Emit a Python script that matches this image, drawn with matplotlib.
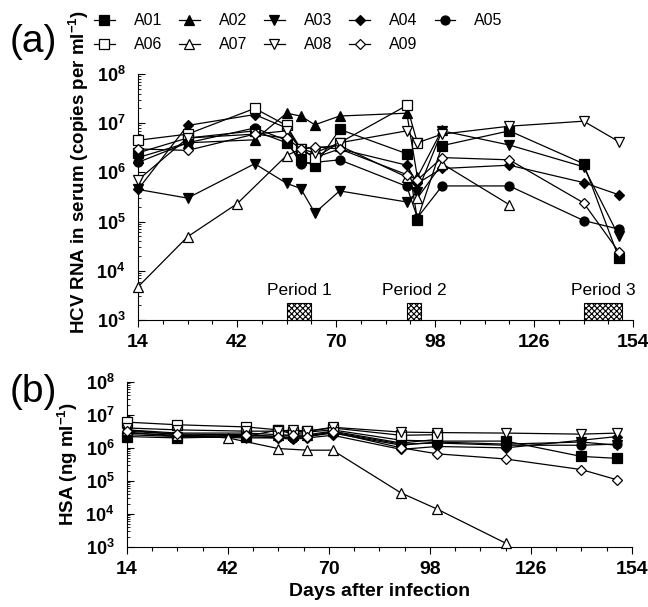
import math

import matplotlib
matplotlib.use("Agg")
import matplotlib.pyplot as plt
import matplotlib.transforms as mtransforms
from matplotlib.patches import Rectangle
from matplotlib.ticker import FixedLocator, LogLocator, FuncFormatter, NullFormatter

plt.rcParams["font.family"] = ["Liberation Sans", "DejaVu Sans"]
plt.rcParams["mathtext.fontset"] = "custom"
plt.rcParams["mathtext.rm"] = "Liberation Sans"
plt.rcParams["mathtext.bf"] = "Liberation Sans:bold"
plt.rcParams["hatch.linewidth"] = 0.8

names = ["A01", "A02", "A03", "A04", "A05", "A06", "A07", "A08", "A09"]

# ── (a) HCV RNA in serum ──────────────────────────────────────────────────
days = [14, 28, 47, 56, 60, 64, 71, 90, 93, 100, 119, 140, 150]
days_a02 = [14, 28, 47, 56, 60, 64, 71, 90, 93, 100]
days_a06 = [14, 28, 47, 56, 60, 64, 71, 90, 93]
days_a07 = [14, 28, 42, 56, 60, 64, 71, 90, 93, 100, 119]

hcv_a01 = [2.5e6, 5e6, 7e6, 4e6, 1.8e6, 1.35e6, 7.5e6, 2.4e6, 1.1e5, 3.5e6, 7e6, 1.5e6, 1.8e4]
hcv_a02 = [2e6, 4e6, 4.6e6, 1.6e7, 1.4e7, 9.3e6, 1.4e7, 1.6e7, 8e5, 7.4e6]
hcv_a03 = [4.5e5, 3e5, 1.5e6, 6e5, 4.7e5, 1.5e5, 4.2e5, 2.5e5, 4e5, 7e6, 3.6e6, 1.3e6, 5e4]
hcv_a04 = [4.5e5, 9e6, 1.5e7, 8e6, 3e6, 2e6, 3e6, 1.4e6, 6e5, 1.2e6, 1.4e6, 6.2e5, 3.5e5]
hcv_a05 = [1.6e6, 4e6, 8e6, 4.5e6, 1.5e6, 1.6e6, 1.8e6, 5.2e5, 1.2e5, 5.3e5, 5.3e5, 1.05e5, 7e4]
hcv_a06 = [4.5e6, 6e6, 2e7, 9e6, 3e6, 2e6, 4e6, 2.3e7, 4e6]
hcv_a07 = [4.7e3, 4.9e4, 2.3e5, 2.2e6, 3e6, 3.2e6, 3.5e6, 8e5, 3e5, 1.5e6, 2.2e5]
hcv_a08 = [7e5, 5e6, 6e6, 7e6, 3e6, 2.5e6, 4e6, 7e6, 4e6, 6e6, 8.7e6, 1.1e7, 4.2e6]
hcv_a09 = [3e6, 2.8e6, 6e6, 5e6, 3e6, 3.3e6, 3e6, 9e5, 7e5, 2e6, 1.8e6, 2.4e5, 2.4e4]

# ── (b) HSA ───────────────────────────────────────────────────────────────
hsa_days = [14, 28, 47, 56, 60, 64, 71, 90, 100, 119, 140, 150]
hsa_days_a02 = [14, 28, 47, 56, 60, 64, 71, 90, 100]
hsa_days_a06 = [14, 28, 47, 56, 60, 64, 71, 90, 100]
hsa_days_a07 = [14, 28, 42, 56, 64, 71, 90, 100, 119]

hsa_a01 = [2.2e6, 2.0e6, 2.2e6, 3.5e6, 2.6e6, 3e6, 3.5e6, 1.7e6, 1.6e6, 1.6e6, 5.5e5, 4.8e5]
hsa_a02 = [3.5e6, 2.8e6, 2.8e6, 2.5e6, 2.4e6, 2.5e6, 3.2e6, 1.4e6, 1.8e6]
hsa_a03 = [3e6, 2.2e6, 2.0e6, 2.0e6, 2.0e6, 2.2e6, 2.8e6, 1.2e6, 1.5e6, 1.3e6, 1.5e6, 1.2e6]
hsa_a04 = [2.8e6, 2.4e6, 2.2e6, 2.0e6, 1.8e6, 2.0e6, 2.4e6, 9e5, 1.1e6, 1.0e6, 1.7e6, 2.2e6]
hsa_a05 = [2.5e6, 2.2e6, 2.4e6, 2.2e6, 2.0e6, 2.3e6, 3.0e6, 1.3e6, 1.4e6, 1.2e6, 1.2e6, 1.3e6]
hsa_a06 = [6e6, 5e6, 4.3e6, 3.5e6, 3.0e6, 3.2e6, 4e6, 2.4e6, 2.5e6]
hsa_a07 = [3.5e6, 2.5e6, 2.0e6, 9.5e5, 8.5e5, 8.5e5, 4.3e4, 1.4e4, 1.3e3]
hsa_a08 = [4e6, 3.5e6, 3.2e6, 3.2e6, 3.5e6, 3.2e6, 4.2e6, 3e6, 2.9e6, 2.8e6, 2.6e6, 2.8e6]
hsa_a09 = [3.2e6, 2.6e6, 2.5e6, 2.2e6, 2.4e6, 2.2e6, 3.0e6, 1.0e6, 6.6e5, 4.6e5, 2.2e5, 1.07e5]

periods = [("Period 1", 56, 63), ("Period 2", 90, 94), ("Period 3", 140, 151)]
xticks = [14, 42, 70, 98, 126, 154]

markers = ["s", "^", "v", "D", "o", "s", "^", "v", "D"]
filled = [True] * 5 + [False] * 4

hcv = [(days, hcv_a01), (days_a02, hcv_a02), (days, hcv_a03), (days, hcv_a04),
       (days, hcv_a05), (days_a06, hcv_a06), (days_a07, hcv_a07), (days, hcv_a08),
       (days, hcv_a09)]
hsa = [(hsa_days, hsa_a01), (hsa_days_a02, hsa_a02), (hsa_days, hsa_a03),
       (hsa_days, hsa_a04), (hsa_days, hsa_a05), (hsa_days_a06, hsa_a06),
       (hsa_days_a07, hsa_a07), (hsa_days, hsa_a08), (hsa_days, hsa_a09)]


def draw(ax, series):
    handles = []
    for name, (x, y), m, f in zip(names, series, markers, filled):
        ms = 5.5 if m == "D" else 6.5
        h, = ax.plot(x, y, color="black", lw=0.9, marker=m, ms=ms,
                     mfc="black" if f else "white", mec="black", mew=0.9,
                     label=name, clip_on=False, zorder=3)
        handles.append(h)
    return handles


def style(ax):
    ax.set_yscale("log")
    ax.set_ylim(1e3, 1e8)
    ax.set_xlim(14, 154)
    for s in ("top", "right"):
        ax.spines[s].set_visible(False)
    ax.xaxis.set_major_locator(FixedLocator(xticks))
    ax.xaxis.set_minor_locator(FixedLocator(range(21, 154, 7)))
    ax.yaxis.set_major_locator(LogLocator(base=10, numticks=10))
    ax.yaxis.set_minor_locator(LogLocator(base=10, subs=range(2, 10), numticks=10))
    ax.yaxis.set_minor_formatter(NullFormatter())
    ax.yaxis.set_major_formatter(FuncFormatter(
        lambda v, p: r"$\mathbf{10^{%d}}$" % round(math.log10(v))))
    ax.tick_params(axis="x", which="major", direction="out", length=5, width=0.8,
                   labelsize=14, pad=5)
    ax.tick_params(axis="x", which="minor", direction="out", length=3, width=0.8)
    ax.tick_params(axis="y", which="major", direction="in", length=5, width=0.8,
                   labelsize=13, pad=9)
    ax.tick_params(axis="y", which="minor", direction="in", length=2.5, width=0.6)
    for lab in ax.get_xticklabels():
        lab.set_fontweight("bold")


fig = plt.figure(figsize=(6.48, 6.07), dpi=100)
ax1 = fig.add_axes([0.213, 0.473, 0.764, 0.405])
ax2 = fig.add_axes([0.196, 0.099, 0.779, 0.272])

handles = draw(ax1, hcv)
draw(ax2, hsa)
style(ax1)
style(ax2)

trans = mtransforms.blended_transform_factory(ax1.transData, ax1.transAxes)
for label, x0, x1 in periods:
    ax1.add_patch(Rectangle((x0, 0), x1 - x0, 0.07, transform=trans,
                            facecolor="white", edgecolor="black", lw=0.8,
                            hatch="xxxxxx", zorder=2, clip_on=False))
    ax1.text((x0 + x1) / 2, 0.088, label, transform=trans, ha="center",
             va="bottom", fontsize=12.5)

ax1.set_ylabel("HCV RNA in serum (copies per ml$^{\\mathbf{-1}}$)",
               fontsize=13.5, fontweight="bold", labelpad=4)
ax1.yaxis.label.set_y(0.6)
ax2.set_ylabel("HSA (ng ml$^{\\mathbf{-1}}$)", fontsize=13.5, fontweight="bold",
               labelpad=4)
ax2.set_xlabel("Days after infection", fontsize=14, fontweight="bold", labelpad=4)

fig.text(0.015, 0.93, "(a)", fontsize=28, va="center")
fig.text(0.015, 0.355, "(b)", fontsize=28, va="center")

order = [0, 5, 1, 6, 2, 7, 3, 8, 4]
fig.legend([handles[i] for i in order], [names[i] for i in order],
           ncol=5, loc="upper left", bbox_to_anchor=(0.145, 0.978), frameon=False,
           fontsize=11.5, handlelength=1.3, handletextpad=1.2, borderpad=0,
           columnspacing=1.05, labelspacing=0.55, borderaxespad=0)

fig.savefig("out.png", dpi=100)
